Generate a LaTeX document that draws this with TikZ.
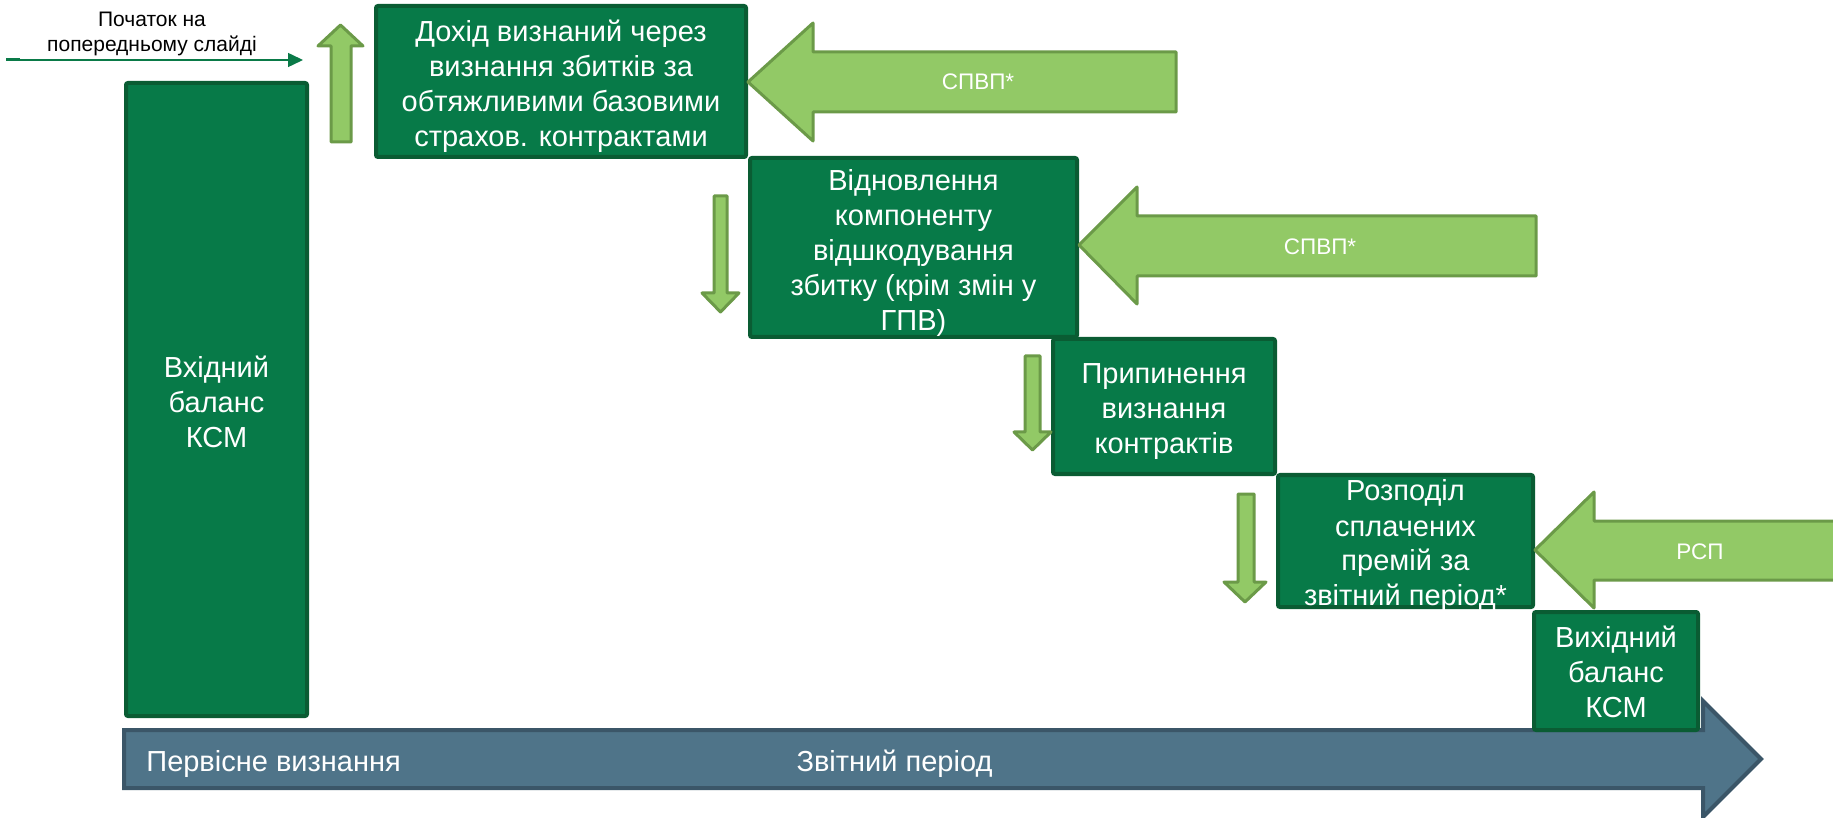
\documentclass[tikz,border=0pt]{standalone}
\usepackage{fontspec}
\setmainfont{Liberation Sans}
\usetikzlibrary{arrows.meta}
\definecolor{boxfill}{HTML}{077A48}
\definecolor{boxline}{HTML}{0A5C33}
\definecolor{lgfill}{HTML}{92C966}
\definecolor{lgline}{HTML}{6B9A48}
\definecolor{barfill}{HTML}{4F7489}
\definecolor{barline}{HTML}{3B5668}
\definecolor{linkgreen}{HTML}{0A7A48}
\begin{document}
\begin{tikzpicture}[x=0.5pt,y=-0.5pt,
  box/.style={draw=boxline, fill=boxfill, line width=2pt, rounded corners=1pt, inner sep=0pt},
  boxtext/.style={align=center, inner sep=0pt, text=white, font=\fontsize{14.5}{17.5}\selectfont},
  lgarrow/.style={draw=lgline, fill=lgfill, line width=1.5pt, line join=round},
  lglabel/.style={text=white, inner sep=0pt, font=\fontsize{11.25}{13}\selectfont},
  barshape/.style={draw=barline, fill=barfill, line width=2pt, line join=miter},
  barlabel/.style={text=white, inner sep=0pt, font=\fontsize{14.5}{17.5}\selectfont},
  toplabel/.style={text=black, align=center, inner sep=0pt, font=\fontsize{10.5}{12.5}\selectfont},
  link/.style={draw=linkgreen, line width=0.75pt, -{Triangle[length=7.5pt,width=7pt]}}]
\useasboundingbox (0,0) rectangle (1833,818);
\clip (0,0) rectangle (1833,818);

% timeline bar
\draw[barshape] (124,730) -- (1703,730) -- (1703,701) -- (1761,759) -- (1703,817) -- (1703,788) -- (124,788) -- cycle;
\node[barlabel, anchor=west] (initrec) at (146,764) {Первісне визнання};
\node[barlabel] (period) at (894.5,764) {Звітний період};

% boxes
\node[box, minimum width=90.5pt, minimum height=316.5pt] (inbal) at (216.5,399.5) {};
\node[boxtext, yshift=-1pt] (inbalt) at (inbal.center) {Вхідний\\баланс\\КСМ};
\node[box, minimum width=185pt, minimum height=75.5pt] (b1) at (561,81.5) {};
\node[boxtext, yshift=-2.5pt] (b1t) at (b1.center) {Дохід визнаний через\\визнання збитків за\\обтяжливими базовими\\страхов. контрактами};
\node[box, minimum width=163.5pt, minimum height=89.5pt] (b2) at (913.5,247.5) {};
\node[boxtext, yshift=-2.5pt] (b2t) at (b2.center) {Відновлення\\компоненту\\відшкодування\\збитку (крім змін у\\ГПВ)};
\node[box, minimum width=111pt, minimum height=67.5pt] (b3) at (1164,406.5) {};
\node[boxtext, yshift=-2.5pt] (b3t) at (b3.center) {Припинення\\визнання\\контрактів};
\node[box, minimum width=127.5pt, minimum height=66pt] (b4) at (1405.5,541) {};
\node[boxtext, yshift=-2.5pt] (b4t) at (b4.center) {Розподіл\\сплачених\\премій за\\звітний період*};
\node[box, minimum width=82pt, minimum height=59pt] (outbal) at (1616,671) {};
\node[boxtext, yshift=-0.5pt] (outbalt) at (outbal.center) {Вихідний\\баланс\\КСМ};

% big left-pointing arrows
\draw[lgarrow] (b1.east |- 0,82) -- (813,23) -- (813,52) -- (1176,52) -- (1176,112) -- (813,112) -- (813,141) -- cycle;
\node[lglabel] (spvp1) at (978,82) {СПВП*};
\draw[lgarrow] (b2.east |- 0,245) -- (1137,187) -- (1137,216) -- (1536,216) -- (1536,276) -- (1137,276) -- (1137,304) -- cycle;
\node[lglabel] (spvp2) at (1320,247) {СПВП*};
\draw[lgarrow] (b4.east |- 0,550) -- (1594,492) -- (1594,521) -- (1900,521) -- (1900,580) -- (1594,580) -- (1594,608) -- cycle;
\node[lglabel] (rsp) at (1700,552) {РСП};

% small up / down arrows
\draw[lgarrow] (331,142) -- (331,46) -- (318,46) -- (340.5,25) -- (363,46) -- (351,46) -- (351,142) -- cycle;
\draw[lgarrow] (714,196) -- (714,293) -- (702,293) -- (720.5,312) -- (739,293) -- (727,293) -- (727,196) -- cycle;
\draw[lgarrow] (1025,356) -- (1025,432) -- (1014,432) -- (1032.5,450) -- (1051,432) -- (1040,432) -- (1040,356) -- cycle;
\draw[lgarrow] (1238,494) -- (1238,582) -- (1224,582) -- (1245,602) -- (1266,582) -- (1254,582) -- (1254,494) -- cycle;

% link from previous slide
\node[toplabel] (prev) at (152,33.5) {Початок на\\попередньому слайді};
\coordinate (ls) at (6,60);
\coordinate (le) at (303,60);
\draw[link] (ls) -- (le);
\draw[draw=linkgreen, line width=1.5pt] (ls) -- (20,60);
\end{tikzpicture}
\end{document}
